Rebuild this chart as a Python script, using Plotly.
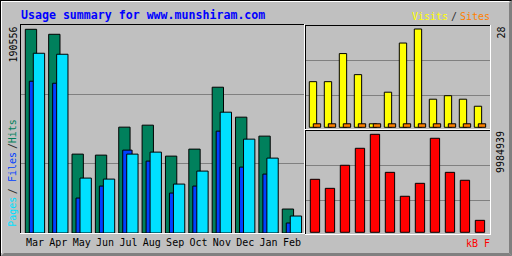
import plotly.graph_objects as go

# ---------------- data ----------------
months = ["Mar", "Apr", "May", "Jun", "Jul", "Aug", "Sep", "Oct", "Nov", "Dec", "Jan", "Feb"]
hits = [190556, 185886, 73795, 72860, 99016, 100884, 71926, 78465, 136379, 108356, 90609, 22418]
files = [141983, 140115, 32694, 43903, 77531, 67256, 37364, 43903, 95279, 61651, 55112, 9341]
pages = [168138, 167204, 51376, 50442, 73795, 75663, 45771, 57915, 113026, 87806, 70058, 15880]
visits = [13, 13, 21, 15, 1, 10, 24, 28, 8, 9, 8, 6]
sites = [1, 1, 1, 1, 1, 1, 1, 1, 1, 1, 1, 1]
kbytes = [5400000, 4480000, 6830000, 8560000, 9984939, 6110000, 3670000, 4990000,
          9580000, 6110000, 5300000, 1220000]
title_text = "Usage summary for www.munshiram.com"

# ---------------- styling ----------------
W, H = 512, 256
BG = "#C0C0C0"
DK = "#808080"
C_HITS, C_FILES, C_PAGES = "#00805C", "#0040FF", "#00E0FF"
C_VISITS, C_SITES, C_KB = "#FFFF00", "#FF8000", "#FF0000"
FONT = "DejaVu Sans Mono"


def fx(p):
    return p / W


def fy(p):
    return 1 - p / H


idx = list(range(len(months)))

fig = go.Figure()

# main panel bars
main_w = 0.485
for vals, col, off, wd in [(hits, C_HITS, 0.0, main_w),
                           (files, C_FILES, 0.171, 0.4),
                           (pages, C_PAGES, 0.342, main_w)]:
    fig.add_trace(go.Bar(x=idx, y=vals, offset=off, width=wd,
                         marker=dict(color=col, line=dict(color="black", width=1)),
                         xaxis="x", yaxis="y", hoverinfo="skip", showlegend=False))

# visits / sites
for vals, col, off in [(visits, C_VISITS, 0.0), (sites, C_SITES, 0.267)]:
    fig.add_trace(go.Bar(x=idx, y=vals, offset=off, width=0.49,
                         marker=dict(color=col, line=dict(color="black", width=1)),
                         xaxis="x2", yaxis="y2", hoverinfo="skip", showlegend=False))

# kbytes
fig.add_trace(go.Bar(x=idx, y=kbytes, offset=0.067, width=0.62,
                     marker=dict(color=C_KB, line=dict(color="black", width=1)),
                     xaxis="x3", yaxis="y3", hoverinfo="skip", showlegend=False))

# ---------------- axes ----------------
m_sp = 23.36
m_x0 = 25.3
m_scale = 203.7 / max(hits)
m_top = (233 - 25) / m_scale
r_sp = 15.0
r_x0 = 309.3
v_scale = 98.3 / max(visits)
v_bot = 127.3
k_scale = 98.0 / max(kbytes)
k_bot = 232.3


def yval(p, base, scale):
    return (base - p) / scale


common_y = dict(showticklabels=False, ticks="", zeroline=False, showline=False,
                showgrid=True, gridcolor=DK, gridwidth=1, fixedrange=True)
common_x = dict(showgrid=False, zeroline=False, showline=False, fixedrange=True)

fig.update_layout(
    width=W, height=H, autosize=False,
    margin=dict(l=0, r=0, t=0, b=0, pad=0),
    paper_bgcolor=BG, plot_bgcolor=BG,
    barmode="overlay", bargap=0,
    xaxis=dict(domain=[fx(21), fx(304)],
               range=[(21 - m_x0) / m_sp, (304 - m_x0) / m_sp],
               tickvals=[i + 0.415 for i in idx], ticktext=months, ticks="",
               ticklabelstandoff=2,
               tickfont=dict(family=FONT, size=10, color="black"),
               anchor="y", **common_x),
    yaxis=dict(domain=[fy(233), fy(25)], range=[0, m_top],
               tickvals=[m_top / 3, 2 * m_top / 3], anchor="x", **common_y),
    xaxis2=dict(domain=[fx(306), fx(490.5)],
                range=[(306 - r_x0) / r_sp, (490.5 - r_x0) / r_sp],
                showticklabels=False, ticks="", anchor="y2", **common_x),
    yaxis2=dict(domain=[fy(129), fy(26)],
                range=[yval(129, v_bot, v_scale), yval(26, v_bot, v_scale)],
                tickvals=[yval(95.3, v_bot, v_scale), yval(60.3, v_bot, v_scale)],
                anchor="x2", **common_y),
    xaxis3=dict(domain=[fx(306), fx(490.5)],
                range=[(306 - r_x0) / r_sp, (490.5 - r_x0) / r_sp],
                showticklabels=False, ticks="", anchor="y3", **common_x),
    yaxis3=dict(domain=[fy(234), fy(131)],
                range=[yval(234, k_bot, k_scale), yval(131, k_bot, k_scale)],
                tickvals=[yval(200.3, k_bot, k_scale), yval(165.3, k_bot, k_scale)],
                anchor="x3", **common_y),
)

# ---------------- borders ----------------
shapes = []


def hline(y, x0, x1, col):
    shapes.append(dict(type="line", xref="paper", yref="paper",
                       x0=fx(x0), x1=fx(x1), y0=fy(y), y1=fy(y),
                       line=dict(color=col, width=1)))


def vline(x, y0, y1, col):
    shapes.append(dict(type="line", xref="paper", yref="paper",
                       x0=fx(x), x1=fx(x), y0=fy(y0), y1=fy(y1),
                       line=dict(color=col, width=1)))


def poly(pts, col):
    path = "M " + " L ".join(f"{fx(a):.6f},{fy(b):.6f}" for a, b in pts) + " Z"
    shapes.append(dict(type="path", xref="paper", yref="paper", path=path,
                       fillcolor=col, line=dict(width=0)))


# outer frame
hline(0.5, 0, 512, "black")
vline(0.5, 0, 256, "black")
hline(1.5, 1, 509, "white")
vline(1.5, 1, 253, "white")
poly([(509, 3), (512, 0), (512, 256), (509, 253)], DK)
poly([(1, 256), (4, 253), (509, 253), (512, 256)], DK)

# main panel
hline(24.5, 20, 305, "black")
vline(20.5, 24, 234, "black")
vline(304.5, 24, 234, "white")
hline(233.5, 20, 305, "white")
# right top panel
hline(25.5, 305, 491, "black")
vline(305.5, 25, 130, "black")
vline(490.5, 25, 130, "white")
hline(129.5, 305, 491, "white")
# right bottom panel
hline(130.5, 305, 491, "black")
vline(305.5, 130, 235, "black")
vline(490.5, 130, 235, "white")
hline(234.5, 305, 491, "white")

fig.update_layout(shapes=shapes)

# ---------------- texts ----------------
ann = []


def text(t, x, y, col, size=10, angle=0, bold=False, xanchor="center"):
    ann.append(dict(text=(f"<b>{t}</b>" if bold else t), xref="paper", yref="paper",
                    x=fx(x), y=fy(y), xanchor=xanchor, yanchor="middle",
                    showarrow=False, textangle=angle,
                    font=dict(family=FONT, size=size, color=col)))


text(title_text, 19.3, 15, "#0000FF", size=11.6, bold=True, xanchor="left")
text("Visits", 429.7, 16.5, C_VISITS)
text("/", 454, 16.5, "#303030")
text("Sites", 475, 16.5, C_SITES)
text("kB F", 477.5, 243, C_KB)
text(str(max(hits)), 12.5, 45, "black", angle=-90)
text(str(max(visits)), 500.5, 33, "black", angle=-90)
text(str(max(kbytes)), 500.5, 152.5, "black", angle=-90)
# vertical legend
text("Pages", 12.5, 212.3, C_PAGES, angle=-90)
text("/", 12.5, 191.7, "#303030", angle=-90)
text("Files", 12.5, 167.5, C_FILES, angle=-90)
text("/", 12.5, 146.5, "#303030", angle=-90)
text("Hits", 12.5, 131.7, C_HITS, angle=-90)

fig.update_layout(annotations=ann)

fig.write_html("out.html", config={"displayModeBar": False, "staticPlot": True})
